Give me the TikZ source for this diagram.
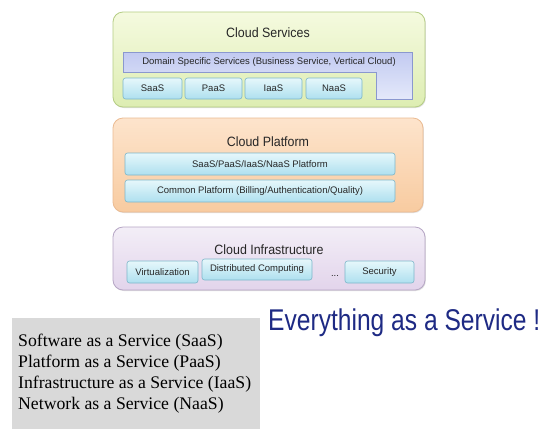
\documentclass[tikz,border=0pt]{standalone}
\usepackage{fontspec}
\setmainfont{Liberation Serif}
\newfontfamily\arialf{Liberation Sans}
\usetikzlibrary{shadows}
\definecolor{csfillT}{HTML}{F5FADF}
\definecolor{csfillB}{HTML}{DDEDB2}
\definecolor{csdraw}{HTML}{B5CD84}
\definecolor{cpfillT}{HTML}{FDE4CC}
\definecolor{cpfillB}{HTML}{F8CBA0}
\definecolor{cpdraw}{HTML}{EBBB92}
\definecolor{cifillT}{HTML}{F3EEF7}
\definecolor{cifillB}{HTML}{E2D4EB}
\definecolor{cidraw}{HTML}{B6A6C5}
\definecolor{inT}{HTML}{E6F7FB}
\definecolor{inB}{HTML}{AEE0EF}
\definecolor{indraw}{HTML}{7DB6CA}
\definecolor{dsT}{HTML}{C2CAF1}
\definecolor{dsB}{HTML}{E4E9FA}
\definecolor{dsdraw}{HTML}{8A98CF}
\definecolor{navy}{HTML}{1E2A84}
\definecolor{graybg}{HTML}{D9D9D9}
\tikzset{
  outerbox/.style={rounded corners=10pt, line width=0.8pt, inner sep=0pt, drop shadow={shadow xshift=0.8pt, shadow yshift=-1pt, opacity=0.25}},
  csbox/.style={outerbox, draw=csdraw, top color=csfillT, bottom color=csfillB},
  cpbox/.style={outerbox, draw=cpdraw, top color=cpfillT, bottom color=cpfillB},
  cibox/.style={outerbox, draw=cidraw, top color=cifillT, bottom color=cifillB},
  innerbox/.style={rounded corners=2.5pt, draw=indraw, line width=0.6pt, top color=inT, bottom color=inB, inner sep=0pt, font=\arialf\fontsize{9.5}{11}\selectfont, text=black!85},
  titletext/.style={font=\arialf\fontsize{13.5}{15}\selectfont, text=black!85, inner sep=0pt},
  smalltext/.style={font=\arialf\fontsize{9.5}{11}\selectfont, text=black!85, inner sep=0pt},
  legendtext/.style={anchor=west, inner sep=0pt, font=\fontsize{17.7}{21}\selectfont},
}
\newcommand{\narrowtitle}[1]{\scalebox{0.92}[1]{#1}}
\begin{document}
\begin{tikzpicture}[x=1pt, y=-1pt]
\useasboundingbox (0,0) rectangle (540,429);
\fill[white] (0,0) rectangle (540,429);
% Cloud Services
\node[csbox, minimum width=312pt, minimum height=95pt] (cs) at (269,59.5) {};
\node[titletext] (cstitle) at (268,33) {\narrowtitle{Cloud Services}};
\shade[top color=dsT, bottom color=dsB, draw=dsdraw, line width=0.6pt]
  (123,52) -- (412,52) -- (412,99) -- (376,99) -- (376,72) -- (123,72) -- cycle;
\node[smalltext] (ds) at (269,62) {Domain Specific Services (Business Service, Vertical Cloud)};
\node[innerbox, minimum width=59pt, minimum height=21pt] (saas) at (152.5,88.5) {SaaS};
\node[innerbox, minimum width=57pt, minimum height=21pt] (paas) at (213.5,88.5) {PaaS};
\node[innerbox, minimum width=57pt, minimum height=21pt] (iaas) at (273.5,88.5) {IaaS};
\node[innerbox, minimum width=56pt, minimum height=21pt] (naas) at (334,88.5) {NaaS};
% Cloud Platform
\node[cpbox, minimum width=310pt, minimum height=94pt] (cp) at (268,165) {};
\node[titletext] (cptitle) at (268,142) {\narrowtitle{Cloud Platform}};
\node[innerbox, minimum width=270pt, minimum height=22pt] (plat) at (260,164) {SaaS/PaaS/IaaS/NaaS Platform};
\node[innerbox, minimum width=270pt, minimum height=22pt] (common) at (260,191) {Common Platform (Billing/Authentication/Quality)};
% Cloud Infrastructure
\node[cibox, minimum width=312pt, minimum height=63pt] (ci) at (269,258.5) {};
\node[titletext] (cititle) at (269,250) {\narrowtitle{Cloud Infrastructure}};
\node[innerbox, minimum width=71pt, minimum height=22pt] (virt) at (162.5,272) {Virtualization};
\node[innerbox, minimum width=110pt, minimum height=21pt] (dist) at (257,269.5) {Distributed Computing};
\node[smalltext] (dots) at (335,276) {...};
\node[innerbox, minimum width=69pt, minimum height=22pt] (sec) at (379.5,272) {Security};
% Bottom legend
\fill[graybg] (12,318) rectangle (260,429);
\node[legendtext] (l1) at (18,342) {Software as a Service (SaaS)};
\node[legendtext] (l2) at (18,363) {Platform as a Service (PaaS)};
\node[legendtext] (l3) at (18,384) {Infrastructure as a Service (IaaS)};
\node[legendtext] (l4) at (18,405) {Network as a Service (NaaS)};
\node[anchor=west, inner sep=0pt, text=navy, font=\arialf\fontsize{30}{34}\selectfont] (eaas) at (268,323) {\scalebox{0.82}[1]{Everything as a Service !}};
\end{tikzpicture}
\end{document}
